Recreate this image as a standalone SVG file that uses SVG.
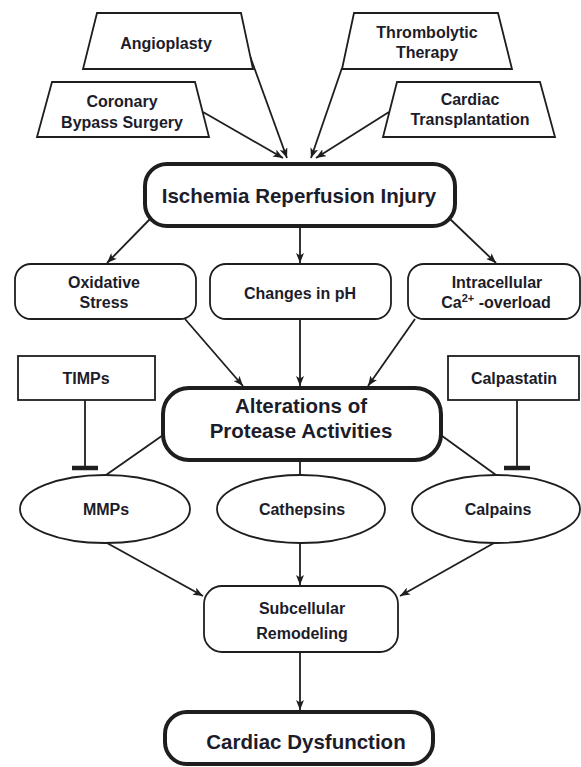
<svg xmlns="http://www.w3.org/2000/svg" width="581" height="767" viewBox="0 0 581 767">
<defs>
<marker id="arr" viewBox="0 0 10 8" refX="10" refY="4" markerWidth="10" markerHeight="8" markerUnits="userSpaceOnUse" orient="auto">
<path d="M0,0 L10,4 L0,8 L2.5,4 Z" fill="#1e1e1e"/>
</marker>
</defs>
<style>
.thin{fill:#fff;stroke:#1e1e1e;stroke-width:1.8}
.thick{fill:#fff;stroke:#1e1e1e;stroke-width:4}
.t{font-family:"Liberation Sans",Arial,sans-serif;font-weight:bold;font-size:16px;fill:#1c1c2a;text-anchor:middle}
.big{font-size:20.5px}
.c{fill:none;stroke:#1e1e1e;stroke-width:1.8}
.a{marker-end:url(#arr)}
.bar{stroke:#1e1e1e;stroke-width:4.5;fill:none}
</style>
<rect width="581" height="767" fill="#fff"/>
<g id="connectors">
<line class="c a" x1="250" y1="56" x2="287" y2="158"/>
<line class="c a" x1="203" y1="112" x2="283" y2="158"/>
<line class="c a" x1="342" y1="68" x2="311" y2="158"/>
<line class="c a" x1="389" y1="112" x2="316" y2="158"/>
<line class="c a" x1="150" y1="219" x2="107" y2="263"/>
<line class="c a" x1="300" y1="227" x2="300" y2="263"/>
<line class="c a" x1="450" y1="219" x2="496" y2="263"/>
<line class="c a" x1="185" y1="319" x2="243" y2="386"/>
<line class="c a" x1="300" y1="319" x2="300" y2="386"/>
<line class="c a" x1="415" y1="319" x2="368" y2="386"/>
<line class="c" x1="85" y1="400" x2="85" y2="468"/>
<line class="bar" x1="72" y1="468" x2="98" y2="468"/>
<line class="c" x1="517" y1="400" x2="517" y2="468"/>
<line class="bar" x1="504" y1="468" x2="530" y2="468"/>
<line class="c" x1="166" y1="433" x2="106" y2="475"/>
<line class="c" x1="300" y1="460" x2="300" y2="475"/>
<line class="c" x1="438" y1="433" x2="496" y2="475"/>
<line class="c a" x1="107" y1="543" x2="203" y2="596"/>
<line class="c a" x1="300" y1="543" x2="300" y2="585"/>
<line class="c a" x1="494" y1="543" x2="400" y2="596"/>
<line class="c a" x1="300" y1="652" x2="300" y2="710"/>
</g>
<g id="angioplasty">
<polygon class="thin" points="97,13 241,13 253,69 83,69"/>
<text class="t" x="166" y="49">Angioplasty</text>
</g>
<g id="coronary">
<polygon class="thin" points="52,82 195,82 209,137 37,137"/>
<text class="t" x="122" y="107">Coronary</text>
<text class="t" x="122" y="128">Bypass Surgery</text>
</g>
<g id="thrombolytic">
<polygon class="thin" points="354,13 498,13 512,69 342,69"/>
<text class="t" x="427" y="38">Thrombolytic</text>
<text class="t" x="427" y="58">Therapy</text>
</g>
<g id="transplantation">
<polygon class="thin" points="397,82 540,82 555,137 383,137"/>
<text class="t" x="470" y="105">Cardiac</text>
<text class="t" x="470" y="125">Transplantation</text>
</g>
<g id="ischemia">
<rect class="thick" x="145" y="164" width="310" height="62" rx="22"/>
<text class="t big" x="299" y="203">Ischemia Reperfusion Injury</text>
</g>
<g id="oxidative">
<rect class="thin" x="15" y="264" width="181" height="55" rx="16"/>
<text class="t" x="104" y="288">Oxidative</text>
<text class="t" x="104" y="308">Stress</text>
</g>
<g id="ph">
<rect class="thin" x="210" y="264" width="181" height="55" rx="16"/>
<text class="t" x="300" y="299">Changes in pH</text>
</g>
<g id="calcium">
<rect class="thin" x="408" y="264" width="172" height="55" rx="16"/>
<text class="t" x="497" y="288">Intracellular</text>
<text class="t" x="496" y="308">Ca<tspan font-size="11" dy="-6">2+</tspan><tspan dy="6"> -overload</tspan></text>
</g>
<g id="timps">
<rect class="thin" x="18" y="356" width="137" height="44"/>
<text class="t" x="86" y="384">TIMPs</text>
</g>
<g id="calpastatin">
<rect class="thin" x="448" y="356" width="131" height="44"/>
<text class="t" x="514" y="384">Calpastatin</text>
</g>
<g id="alterations">
<rect class="thick" x="163" y="388" width="278" height="72" rx="26"/>
<text class="t big" x="301" y="413">Alterations of</text>
<text class="t big" x="301" y="438">Protease Activities</text>
</g>
<g id="mmps">
<ellipse class="thin" cx="105" cy="509" rx="85" ry="34"/>
<text class="t" x="106" y="515">MMPs</text>
</g>
<g id="cathepsins">
<ellipse class="thin" cx="301" cy="509" rx="84" ry="34"/>
<text class="t" x="302" y="515">Cathepsins</text>
</g>
<g id="calpains">
<ellipse class="thin" cx="496" cy="509" rx="84" ry="34"/>
<text class="t" x="498" y="515">Calpains</text>
</g>
<g id="subcellular">
<rect class="thin" x="204" y="586" width="194" height="66" rx="18"/>
<text class="t" x="302" y="614">Subcellular</text>
<text class="t" x="302" y="639">Remodeling</text>
</g>
<g id="dysfunction">
<rect class="thick" x="165" y="712" width="268" height="52" rx="22"/>
<text class="t big" x="306" y="749">Cardiac Dysfunction</text>
</g>
</svg>
